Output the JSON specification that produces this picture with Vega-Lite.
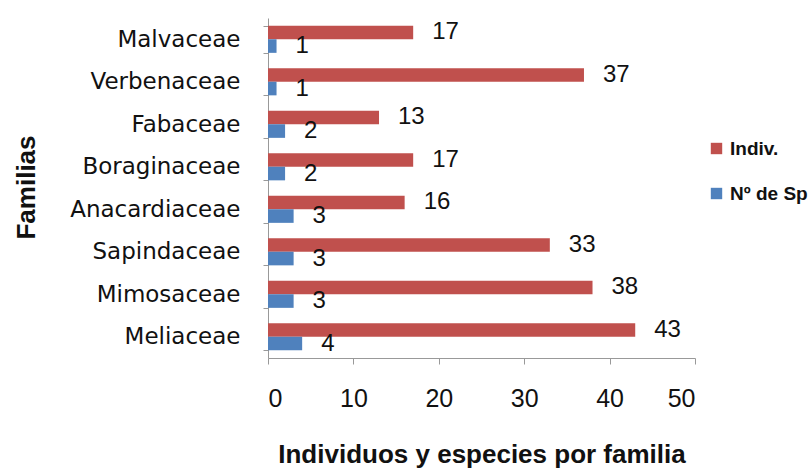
{
  "$schema": "https://vega.github.io/schema/vega-lite/v6.json",
  "autosize": "none",
  "width": 427,
  "height": 340,
  "padding": {"left": 268, "top": 18, "right": 116, "bottom": 112},
  "background": "white",
  "config": {
    "font": "Liberation Sans",
    "view": {"stroke": null}
  },
  "data": {
    "values": [
      {"familia": "Malvaceae", "serie": "Indiv.", "valor": 17},
      {"familia": "Malvaceae", "serie": "Nº de Sp", "valor": 1},
      {"familia": "Verbenaceae", "serie": "Indiv.", "valor": 37},
      {"familia": "Verbenaceae", "serie": "Nº de Sp", "valor": 1},
      {"familia": "Fabaceae", "serie": "Indiv.", "valor": 13},
      {"familia": "Fabaceae", "serie": "Nº de Sp", "valor": 2},
      {"familia": "Boraginaceae", "serie": "Indiv.", "valor": 17},
      {"familia": "Boraginaceae", "serie": "Nº de Sp", "valor": 2},
      {"familia": "Anacardiaceae", "serie": "Indiv.", "valor": 16},
      {"familia": "Anacardiaceae", "serie": "Nº de Sp", "valor": 3},
      {"familia": "Sapindaceae", "serie": "Indiv.", "valor": 33},
      {"familia": "Sapindaceae", "serie": "Nº de Sp", "valor": 3},
      {"familia": "Mimosaceae", "serie": "Indiv.", "valor": 38},
      {"familia": "Mimosaceae", "serie": "Nº de Sp", "valor": 3},
      {"familia": "Meliaceae", "serie": "Indiv.", "valor": 43},
      {"familia": "Meliaceae", "serie": "Nº de Sp", "valor": 4}
    ]
  },
  "encoding": {
    "y": {
      "field": "familia",
      "type": "nominal",
      "sort": ["Malvaceae", "Verbenaceae", "Fabaceae", "Boraginaceae", "Anacardiaceae", "Sapindaceae", "Mimosaceae", "Meliaceae"],
      "scale": {"paddingInner": 0.36, "paddingOuter": 0.18},
      "axis": {
        "title": "Familias",
        "titleFontSize": 26,
        "titleFontWeight": "bold",
        "titleColor": "#111",
        "titleX": -242,
        "titleY": 169,
        "titleAngle": -90,
        "titleAlign": "center",
        "titleBaseline": "middle",
        "labelFont": "DejaVu Sans",
        "labelFontSize": 23,
        "labelColor": "#111",
        "labelPadding": 23,
        "tickBand": "extent",
        "tickSize": 5,
        "tickColor": "#999",
        "domainColor": "#999",
        "grid": false
      }
    },
    "yOffset": {"field": "serie", "type": "nominal", "sort": ["Indiv.", "Nº de Sp"]},
    "x": {
      "field": "valor",
      "type": "quantitative",
      "scale": {"domain": [0, 50], "nice": false},
      "axis": {
        "title": "Individuos y especies por familia",
        "titleFontSize": 26,
        "titleFontWeight": "bold",
        "titleColor": "#111",
        "titleY": 83,
        "titleBaseline": "top",
        "values": [0, 10, 20, 30, 40, 50],
        "labelFontSize": 25,
        "labelColor": "#111",
        "labelPadding": 22,
        "tickSize": 6,
        "tickColor": "#999",
        "domainColor": "#999",
        "grid": false
      }
    }
  },
  "layer": [
    {
      "mark": {"type": "bar", "stroke": null},
      "encoding": {
        "color": {
          "field": "serie",
          "type": "nominal",
          "scale": {"domain": ["Indiv.", "Nº de Sp"], "range": ["#C0504D", "#4F81BD"]},
          "legend": {
            "title": null,
            "orient": "none",
            "legendX": 439,
            "legendY": 121,
            "symbolType": "square",
            "symbolSize": 130,
            "symbolStrokeWidth": 0,
            "labelFontSize": 19,
            "labelFontWeight": "bold",
            "labelColor": "#111",
            "labelOffset": 4,
            "rowPadding": 25
          }
        }
      }
    },
    {
      "mark": {"type": "text", "align": "left", "baseline": "middle", "dx": 19, "fontSize": 24, "color": "#111"},
      "encoding": {"text": {"field": "valor", "type": "quantitative"}}
    }
  ]
}
